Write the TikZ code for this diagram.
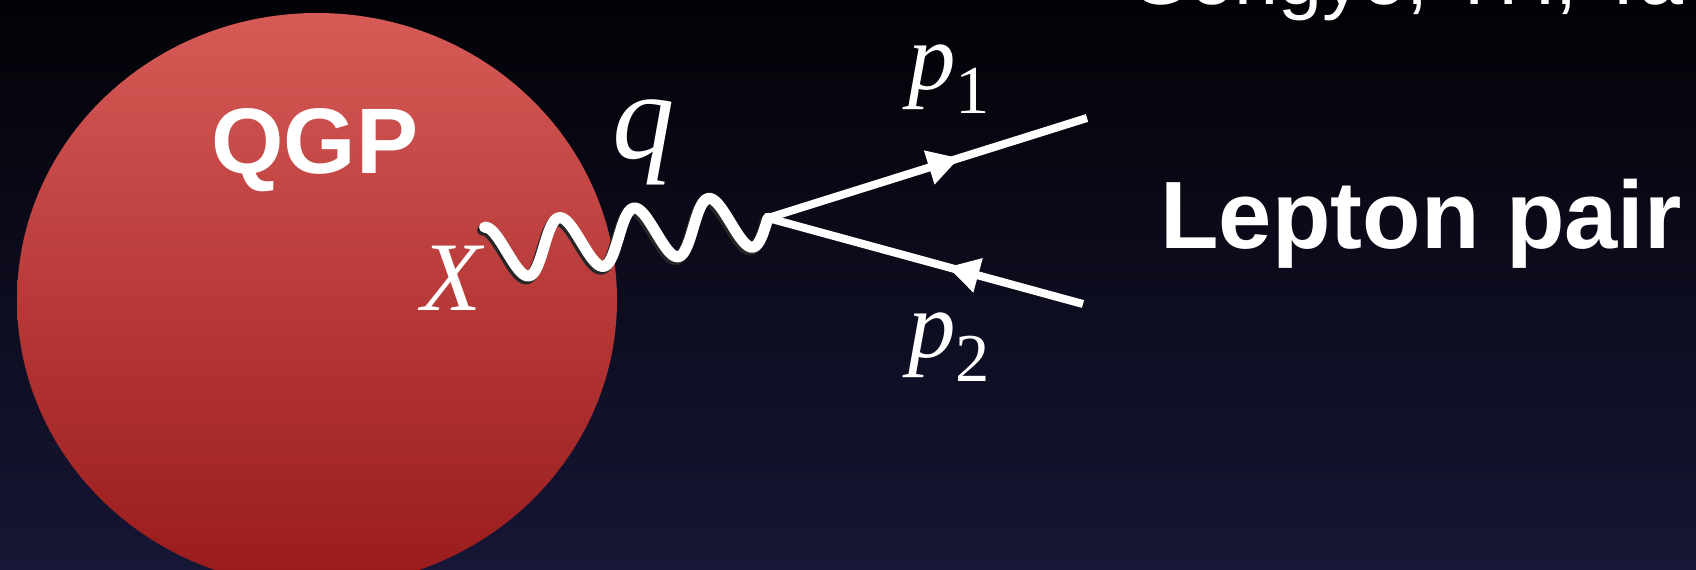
\documentclass[tikz,border=0pt]{standalone}
\usepackage{fontspec}
\setmainfont{Liberation Serif}
\setsansfont{Liberation Sans}
\usetikzlibrary{arrows.meta, decorations.markings}
\definecolor{bgtop}{RGB}{2,2,6}
\definecolor{bgbottom}{RGB}{22,22,54}
\definecolor{qgptop}{RGB}{214,90,86}
\definecolor{qgpbottom}{RGB}{152,26,27}
\newcommand{\mom}[2]{\textit{#1}\raisebox{-0.26em}{\fontsize{39}{39}\selectfont #2}}

\begin{document}
\begin{tikzpicture}[x=0.02cm, y=-0.02cm,
    bigtext/.style={font=\sffamily\bfseries\fontsize{54.5}{60}\selectfont, text=white, inner sep=0pt},
    mathlabel/.style={font=\fontsize{54}{60}\selectfont, text=white, inner sep=0pt},
    lepton/.style={white, line width=4.55pt},
    photon/.style={white, line width=6.3pt, line cap=round, line join=round},
    photonshadow/.style={photon, black!85, shift={(-2.5,2.5)}},
    fwdarrow/.style={postaction={decorate}, decoration={markings,
        mark=at position #1 with {\arrow{Triangle[length=18pt, width=19pt]}}}},
    bwdarrow/.style={postaction={decorate}, decoration={markings,
        mark=at position #1 with {\arrowreversed{Triangle[length=18pt, width=19pt]}}}}]
    \useasboundingbox (0,0) rectangle (1696,569);
    \clip (0,0) rectangle (1696,569);
    % background
    \shade[top color=bgtop, bottom color=bgbottom] (0,0) rectangle (1696,569);
    % plasma blob
    \shade[top color=qgptop, bottom color=qgpbottom] (317,300) ellipse [x radius=300, y radius=287];
    \node[bigtext, font=\sffamily\bfseries\fontsize{53}{60}\selectfont, anchor=base] (qgp) at (315,173) {QGP};
    % citation line, cut by the top edge
    \node[font=\sffamily\fontsize{45}{50}\selectfont, text=white, inner sep=0pt, anchor=base west] (cite) at (1129,4) {Gongyo, TH, Ta};
    % photon, 3.75 waves from xstart to the vertex
    \coordinate (xstart) at (488,254);
    \coordinate (vtx) at (768,218);
    \begin{scope}[shift={(xstart)}, rotate=7.33]
        \draw[photonshadow] plot[domain=0:3.75, samples=150] ({75.28*\x}, {-27*cos(360*\x)});
        \draw[photon] plot[domain=0:3.75, samples=150] ({75.28*\x}, {-27*cos(360*\x)});
    \end{scope}
    \node[mathlabel, font=\fontsize{56}{60}\selectfont, anchor=base] (xlab) at (453,310) {\textit{X}};
    \node[mathlabel, font=\fontsize{71}{80}\selectfont, anchor=base] (qlab) at (644,158) {\textit{q}};
    % lepton pair
    \coordinate (e1) at (1087,118);
    \coordinate (e2) at (1083,304);
    \draw[lepton, fwdarrow=0.6] (vtx) -- (e1);
    \draw[lepton, bwdarrow=0.57] (vtx) -- (e2);
    \node[mathlabel, anchor=base] (p1) at (949,89) {\mom{p}{1}};
    \node[mathlabel, anchor=base] (p2) at (949,357) {\mom{p}{2}};
    \node[bigtext, anchor=base west] (pair) at (1160,248) {Lepton pair};
\end{tikzpicture}
\end{document}
